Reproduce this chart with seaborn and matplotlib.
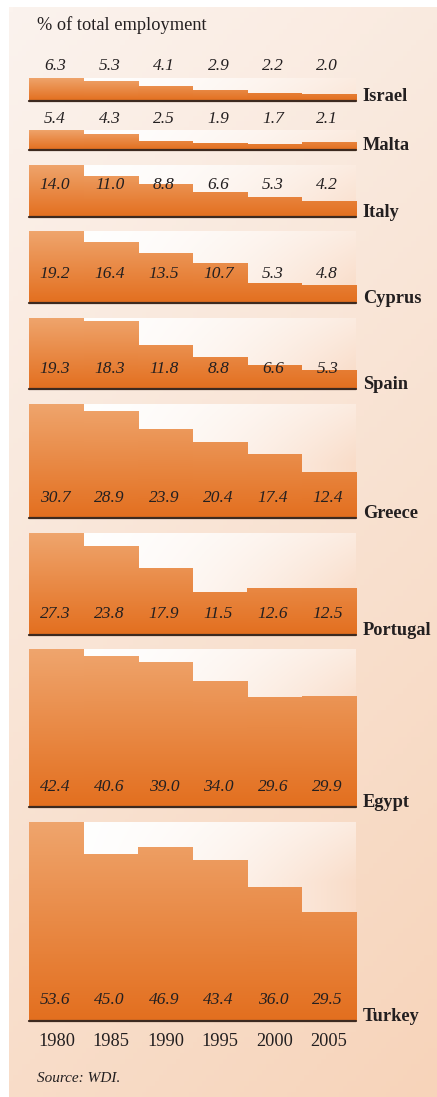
import numpy as np
import pandas as pd
import matplotlib.pyplot as plt
import matplotlib.colors as mcolors
import matplotlib.transforms as mtransforms
import seaborn as sns

# %%
years = [1980, 1985, 1990, 1995, 2000, 2005]
countries = ["Israel", "Malta", "Italy", "Cyprus", "Spain",
             "Greece", "Portugal", "Egypt", "Turkey"]

israel = [6.3, 5.3, 4.1, 2.9, 2.2, 2.0]
malta = [5.4, 4.3, 2.5, 1.9, 1.7, 2.1]
italy = [14.0, 11.0, 8.8, 6.6, 5.3, 4.2]
cyprus = [19.2, 16.4, 13.5, 10.7, 5.3, 4.8]
spain = [19.3, 18.3, 11.8, 8.8, 6.6, 5.3]
greece = [30.7, 28.9, 23.9, 20.4, 17.4, 12.4]
portugal = [27.3, 23.8, 17.9, 11.5, 12.6, 12.5]
egypt = [42.4, 40.6, 39.0, 34.0, 29.6, 29.9]
turkey = [53.6, 45.0, 46.9, 43.4, 36.0, 29.5]

series = [israel, malta, italy, cyprus, spain, greece, portugal, egypt, turkey]

# %%
sns.set_style("white")
plt.rcParams['font.family'] = ['Liberation Serif', 'DejaVu Serif']
text_color = '#231f20'

W, H = 437, 1097
k = 3.725                 # px per percentage point
left_px, right_px = 29.3, 356.0
first_top = 77.5
gaps = [29.0] + [14.6] * 7
label_offsets = [35, 31, 32, 29, 20, 20, 21, 20, 21]   # px above baseline

fig = plt.figure(figsize=(W / 100, H / 100), dpi=100, facecolor='white')

# outer peach background
bg_ax = fig.add_axes([9 / W, 0, 1 - 9 / W, (H - 7) / H], zorder=-10)
yy, xx = np.mgrid[0:1:200j, 0:1:100j]
t = np.clip(0.72 * yy + 0.28 * xx, 0, 1)[..., None]
c0 = np.array(mcolors.to_rgb('#fbf3ee'))
c1 = np.array(mcolors.to_rgb('#f7d4ba'))
bg_ax.imshow(c0 * (1 - t) + c1 * t, aspect='auto', extent=[0, 1, 0, 1])
bg_ax.set_axis_off()

bar_top = np.array(mcolors.to_rgb('#efa56d'))
bar_bot = np.array(mcolors.to_rgb('#e36f1f'))
pan_end = np.array(mcolors.to_rgb('#f9dcc8'))
white = np.array([1.0, 1.0, 1.0])

top = first_top
for i, (name, vals) in enumerate(zip(countries, series)):
    ymax = max(vals)
    h_px = ymax * k
    ax = fig.add_axes([left_px / W, 1 - (top + h_px) / H,
                       (right_px - left_px) / W, h_px / H])
    ax.set_facecolor('none')

    # panel background gradient
    ny = max(int(h_px), 2)
    fy = np.linspace(0, 1, ny)[:, None]          # 0 at top
    fx = np.linspace(0, 1, 200)[None, :]
    dist = np.clip(fy * h_px / 60, 0, 1)
    tt = np.clip(fx ** 2 * (0.55 + 0.45 * dist), 0, 1)[..., None]
    ax.imshow(white * (1 - tt) + pan_end * tt, aspect='auto',
              extent=[-0.5, 5.5, 0, ymax], zorder=0)

    df = pd.DataFrame({"year": years, "value": vals})
    sns.barplot(data=df, x="year", y="value", ax=ax, width=1,
                color='#e8843f', saturation=1, errorbar=None,
                linewidth=0, zorder=1)

    # vertical orange gradient clipped to each bar
    grad = np.repeat(bar_top * (1 - fy[..., None]) + bar_bot * fy[..., None], 2, axis=1)
    for p in ax.patches:
        im = ax.imshow(grad, aspect='auto', extent=[-0.5, 5.5, 0, ymax], zorder=2)
        im.set_clip_path(p)

    ax.set_xlim(-0.5, 5.5)
    ax.set_ylim(0, ymax)
    ax.axhline(0, color='#3d2a20', lw=1.6, zorder=3, clip_on=False)

    off = mtransforms.offset_copy(ax.transData, fig=fig, x=-1, y=label_offsets[i] * 0.72,
                                  units='points')
    for j, v in enumerate(vals):
        ax.text(j, 0, f"{v:.1f}", transform=off, ha='center', va='center',
                fontstyle='italic', fontsize=12.5, color=text_color, zorder=4)

    ax.annotate(name, xy=(1, 0), xycoords='axes fraction', xytext=(4.8, 0),
                textcoords='offset points', ha='left', va='baseline',
                fontweight='bold', fontsize=13.2, color=text_color,
                annotation_clip=False)

    sns.despine(ax=ax, left=True, bottom=True)
    ax.set_yticks([])
    ax.set_xlabel('')
    ax.set_ylabel('')
    if name == "Turkey":
        ax.tick_params(axis='x', length=0, pad=8, labelsize=13.2,
                       labelcolor=text_color)
    else:
        ax.set_xticks([])

    top += h_px + (gaps[i] if i < len(gaps) else 0)

fig.text(36.7 / W, 1 - 25 / H, "% of total employment", ha='left', va='center',
         fontsize=13.2, color=text_color)
fig.text(37 / W, 1 - 1078 / H, "Source: WDI.", ha='left', va='center',
         fontsize=11, fontstyle='italic', color=text_color)

fig.savefig("out.png", dpi=100)
